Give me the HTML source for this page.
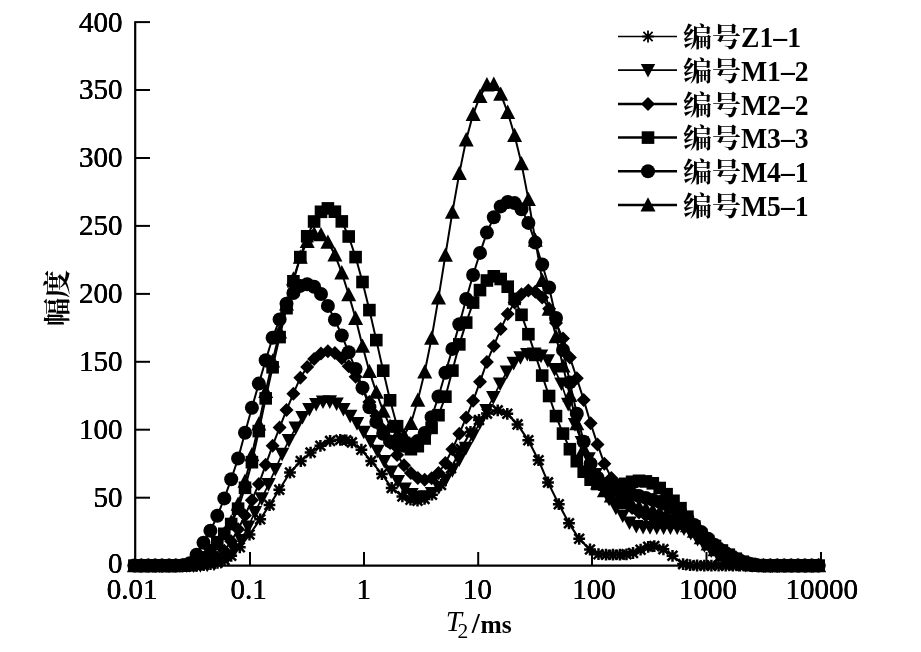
<!DOCTYPE html>
<html lang="zh"><head><meta charset="utf-8"><title>T2/ms 幅度</title>
<style>
html,body{margin:0;padding:0;background:#fff}
svg{display:block}
text{font-family:"Liberation Serif","Noto Serif CJK SC",serif;fill:#000}
.num{font-size:29px;text-shadow:.22px 0 0 #000,-.22px 0 0 #000}
.numy{font-size:29px;text-shadow:.3px 0 0 #000,-.3px 0 0 #000}
.leg{font-size:27px;font-weight:bold}
.cjk{font-family:"Noto Serif CJK SC","Liberation Serif",serif;font-size:27.5px;font-weight:700}
</style></head><body>
<svg width="921" height="652" viewBox="0 0 921 652">
<rect width="921" height="652" fill="#fff"/>
<path d="M135.2 21.2V565.6H822.0" fill="none" stroke="#000" stroke-width="2.2"/>
<text x="122.5" y="572.8" text-anchor="end" class="numy">0</text>
<path d="M135.2 497.7H150" stroke="#000" stroke-width="2"/>
<text x="122.5" y="507.1" text-anchor="end" class="numy">50</text>
<path d="M135.2 429.7H150" stroke="#000" stroke-width="2"/>
<text x="122.5" y="439.1" text-anchor="end" class="numy">100</text>
<path d="M135.2 361.8H150" stroke="#000" stroke-width="2"/>
<text x="122.5" y="371.2" text-anchor="end" class="numy">150</text>
<path d="M135.2 293.9H150" stroke="#000" stroke-width="2"/>
<text x="122.5" y="303.2" text-anchor="end" class="numy">200</text>
<path d="M135.2 225.9H150" stroke="#000" stroke-width="2"/>
<text x="122.5" y="235.3" text-anchor="end" class="numy">250</text>
<path d="M135.2 158.0H150" stroke="#000" stroke-width="2"/>
<text x="122.5" y="167.4" text-anchor="end" class="numy">300</text>
<path d="M135.2 90.0H150" stroke="#000" stroke-width="2"/>
<text x="122.5" y="99.4" text-anchor="end" class="numy">350</text>
<path d="M135.2 22.1H150" stroke="#000" stroke-width="2"/>
<text x="122.5" y="31.5" text-anchor="end" class="numy">400</text>
<text x="132.2" y="599" text-anchor="middle" class="num">0.01</text>
<path d="M250 565.6V552" stroke="#000" stroke-width="2"/>
<text x="248.7" y="599" text-anchor="middle" class="num">0.1</text>
<path d="M364 565.6V552" stroke="#000" stroke-width="2"/>
<text x="363.8" y="599" text-anchor="middle" class="num">1</text>
<path d="M478.2 565.6V552" stroke="#000" stroke-width="2"/>
<text x="477.4" y="599" text-anchor="middle" class="num">10</text>
<path d="M592 565.6V552" stroke="#000" stroke-width="2"/>
<text x="594" y="599" text-anchor="middle" class="num">100</text>
<path d="M706.5 565.6V552" stroke="#000" stroke-width="2"/>
<text x="708" y="599" text-anchor="middle" class="num">1000</text>
<path d="M821 565.6V552" stroke="#000" stroke-width="2"/>
<text x="821.8" y="599" text-anchor="middle" class="num">10000</text>
<defs>
<g id="ast" stroke="#000" stroke-width="2.5" fill="none"><path d="M-5.9 0H5.9M0 -5.9V5.9M-4.9 -4.9L4.9 4.9M-4.9 4.9L4.9 -4.9"/></g>
<g id="ast2" stroke="#000" stroke-width="1.8" fill="none"><path d="M-5.9 0H5.9M0 -5.9V5.9M-4.6 -4.6L4.6 4.6M-4.6 4.6L4.6 -4.6"/></g>
<path id="dtri" d="M-7.2 -6.3H7.2L0 7.3Z" fill="#000"/>
<path id="dia" d="M-7 0L0 -7L7 0L0 7Z" fill="#000"/>
<rect id="sq" x="-6.3" y="-6.3" width="12.6" height="12.6" fill="#000"/>
<circle id="cir" r="7" fill="#000"/>
<path id="utri" d="M-7.5 6.6H7.5L0 -7.7Z" fill="#000"/>
</defs>
<polyline points="134.2,565.6 141.1,565.6 148.1,565.6 155.0,565.6 162.0,565.6 168.9,565.6 175.8,565.6 182.8,565.6 189.7,565.6 196.7,565.5 203.6,565.1 210.5,564.2 217.5,562.8 224.5,560.0 231.2,555.8 239.8,547.3 249.5,534.5 260.2,519.3 269.5,505.1 279.3,489.7 290.0,472.5 300.8,461.1 310.6,452.6 320.4,445.8 330.1,440.9 340.3,439.8 346.3,440.3 351.9,442.4 361.4,449.7 371.2,461.1 381.9,474.1 391.7,487.9 402.4,496.4 410.5,499.7 417.5,500.7 424.5,498.9 432.0,494.7 441.0,484.9 451.0,468.2 461.0,449.1 470.5,431.9 479.0,420.0 487.0,413.6 497.7,410.4 507.3,413.8 517.5,424.4 528.3,440.3 538.5,460.2 548.0,482.4 558.8,504.2 569.0,523.3 579.2,538.8 590.0,549.5 598.5,554.2 606.0,554.7 613.0,554.7 620.0,554.7 626.5,554.3 633.0,553.0 640.6,549.7 648.2,546.8 654.3,546.1 663.4,549.3 672.5,555.8 683.1,564.1 690.0,565.2 697.1,565.5 704.3,565.6 711.4,565.6 718.6,565.6 725.7,565.6 732.9,565.6 740.0,565.6 747.2,565.6 754.3,565.6 761.4,565.6 768.6,565.6 775.7,565.6 782.9,565.6 790.0,565.6 797.2,565.6 804.3,565.6 811.5,565.6 818.6,565.6" fill="none" stroke="#000" stroke-width="2.1" stroke-linejoin="round"/>
<g><use href="#ast" x="134.2" y="565.6"/><use href="#ast" x="141.1" y="565.6"/><use href="#ast" x="148.1" y="565.6"/><use href="#ast" x="155.0" y="565.6"/><use href="#ast" x="162.0" y="565.6"/><use href="#ast" x="168.9" y="565.6"/><use href="#ast" x="175.8" y="565.6"/><use href="#ast" x="182.8" y="565.6"/><use href="#ast" x="189.7" y="565.6"/><use href="#ast" x="196.7" y="565.5"/><use href="#ast" x="203.6" y="565.1"/><use href="#ast" x="210.5" y="564.2"/><use href="#ast" x="217.5" y="562.8"/><use href="#ast" x="224.5" y="560.0"/><use href="#ast" x="231.2" y="555.8"/><use href="#ast" x="239.8" y="547.3"/><use href="#ast" x="249.5" y="534.5"/><use href="#ast" x="260.2" y="519.3"/><use href="#ast" x="269.5" y="505.1"/><use href="#ast" x="279.3" y="489.7"/><use href="#ast" x="290.0" y="472.5"/><use href="#ast" x="300.8" y="461.1"/><use href="#ast" x="310.6" y="452.6"/><use href="#ast" x="320.4" y="445.8"/><use href="#ast" x="330.1" y="440.9"/><use href="#ast" x="340.3" y="439.8"/><use href="#ast" x="346.3" y="440.3"/><use href="#ast" x="351.9" y="442.4"/><use href="#ast" x="361.4" y="449.7"/><use href="#ast" x="371.2" y="461.1"/><use href="#ast" x="381.9" y="474.1"/><use href="#ast" x="391.7" y="487.9"/><use href="#ast" x="402.4" y="496.4"/><use href="#ast" x="410.5" y="499.7"/><use href="#ast" x="417.5" y="500.7"/><use href="#ast" x="424.5" y="498.9"/><use href="#ast" x="432.0" y="494.7"/><use href="#ast" x="441.0" y="484.9"/><use href="#ast" x="451.0" y="468.2"/><use href="#ast" x="461.0" y="449.1"/><use href="#ast" x="470.5" y="431.9"/><use href="#ast" x="479.0" y="420.0"/><use href="#ast" x="487.0" y="413.6"/><use href="#ast" x="497.7" y="410.4"/><use href="#ast" x="507.3" y="413.8"/><use href="#ast" x="517.5" y="424.4"/><use href="#ast" x="528.3" y="440.3"/><use href="#ast" x="538.5" y="460.2"/><use href="#ast" x="548.0" y="482.4"/><use href="#ast" x="558.8" y="504.2"/><use href="#ast" x="569.0" y="523.3"/><use href="#ast" x="579.2" y="538.8"/><use href="#ast" x="590.0" y="549.5"/><use href="#ast" x="598.5" y="554.2"/><use href="#ast" x="606.0" y="554.7"/><use href="#ast" x="613.0" y="554.7"/><use href="#ast" x="620.0" y="554.7"/><use href="#ast" x="626.5" y="554.3"/><use href="#ast" x="633.0" y="553.0"/><use href="#ast" x="640.6" y="549.7"/><use href="#ast" x="648.2" y="546.8"/><use href="#ast" x="654.3" y="546.1"/><use href="#ast" x="663.4" y="549.3"/><use href="#ast" x="672.5" y="555.8"/><use href="#ast" x="683.1" y="564.1"/><use href="#ast" x="690.0" y="565.2"/><use href="#ast" x="697.1" y="565.5"/><use href="#ast" x="704.3" y="565.6"/><use href="#ast" x="711.4" y="565.6"/><use href="#ast" x="718.6" y="565.6"/><use href="#ast" x="725.7" y="565.6"/><use href="#ast" x="732.9" y="565.6"/><use href="#ast" x="740.0" y="565.6"/><use href="#ast" x="747.2" y="565.6"/><use href="#ast" x="754.3" y="565.6"/><use href="#ast" x="761.4" y="565.6"/><use href="#ast" x="768.6" y="565.6"/><use href="#ast" x="775.7" y="565.6"/><use href="#ast" x="782.9" y="565.6"/><use href="#ast" x="790.0" y="565.6"/><use href="#ast" x="797.2" y="565.6"/><use href="#ast" x="804.3" y="565.6"/><use href="#ast" x="811.5" y="565.6"/><use href="#ast" x="818.6" y="565.6"/></g>
<polyline points="139.1,565.6 145.9,565.6 152.7,565.6 159.5,565.6 166.3,565.6 173.1,565.6 179.9,565.6 186.7,565.6 193.5,565.6 200.4,565.4 207.2,565.0 214.0,564.0 220.8,561.7 227.6,557.1 234.4,550.2 241.2,540.3 248.0,526.9 254.9,512.4 261.7,498.6 268.5,484.4 275.3,469.3 282.1,454.1 288.9,440.4 295.7,427.9 302.5,417.2 309.4,409.3 316.2,404.2 323.0,401.8 329.8,401.6 336.6,403.8 343.4,409.2 350.2,416.0 357.0,423.4 363.8,432.0 370.7,441.4 377.5,451.0 384.3,461.2 391.1,471.7 397.9,481.2 404.7,488.8 411.5,494.4 418.3,497.1 425.2,496.6 432.0,493.2 438.8,487.5 445.6,479.8 452.4,470.4 459.2,459.7 466.0,448.0 472.8,435.6 479.7,422.9 486.5,410.2 493.3,397.4 500.1,383.7 506.9,371.9 513.7,363.1 520.5,357.5 527.3,354.3 534.1,353.9 541.0,355.9 547.8,360.6 554.6,369.4 561.4,383.8 568.2,404.1 575.0,424.4 581.8,442.2 588.6,458.6 595.5,474.2 602.3,487.9 609.1,498.9 615.9,508.0 622.7,515.8 629.5,522.7 636.3,526.2 643.1,527.2 650.0,527.5 656.8,527.6 663.6,527.6 670.4,527.6 677.2,527.8 684.0,528.7 690.8,533.1 697.6,539.3 704.4,545.4 711.3,550.6 718.1,555.7 724.9,560.7 731.7,563.7 738.5,564.7 745.3,565.2 752.1,565.5 758.9,565.6 765.8,565.6 772.6,565.6 779.4,565.6 786.2,565.6 793.0,565.6 799.8,565.6 806.6,565.6 813.4,565.6" fill="none" stroke="#000" stroke-width="1.7" stroke-linejoin="round"/>
<g><use href="#dtri" x="139.1" y="565.6"/><use href="#dtri" x="145.9" y="565.6"/><use href="#dtri" x="152.7" y="565.6"/><use href="#dtri" x="159.5" y="565.6"/><use href="#dtri" x="166.3" y="565.6"/><use href="#dtri" x="173.1" y="565.6"/><use href="#dtri" x="179.9" y="565.6"/><use href="#dtri" x="186.7" y="565.6"/><use href="#dtri" x="193.5" y="565.6"/><use href="#dtri" x="200.4" y="565.4"/><use href="#dtri" x="207.2" y="565.0"/><use href="#dtri" x="214.0" y="564.0"/><use href="#dtri" x="220.8" y="561.7"/><use href="#dtri" x="227.6" y="557.1"/><use href="#dtri" x="234.4" y="550.2"/><use href="#dtri" x="241.2" y="540.3"/><use href="#dtri" x="248.0" y="526.9"/><use href="#dtri" x="254.9" y="512.4"/><use href="#dtri" x="261.7" y="498.6"/><use href="#dtri" x="268.5" y="484.4"/><use href="#dtri" x="275.3" y="469.3"/><use href="#dtri" x="282.1" y="454.1"/><use href="#dtri" x="288.9" y="440.4"/><use href="#dtri" x="295.7" y="427.9"/><use href="#dtri" x="302.5" y="417.2"/><use href="#dtri" x="309.4" y="409.3"/><use href="#dtri" x="316.2" y="404.2"/><use href="#dtri" x="323.0" y="401.8"/><use href="#dtri" x="329.8" y="401.6"/><use href="#dtri" x="336.6" y="403.8"/><use href="#dtri" x="343.4" y="409.2"/><use href="#dtri" x="350.2" y="416.0"/><use href="#dtri" x="357.0" y="423.4"/><use href="#dtri" x="363.8" y="432.0"/><use href="#dtri" x="370.7" y="441.4"/><use href="#dtri" x="377.5" y="451.0"/><use href="#dtri" x="384.3" y="461.2"/><use href="#dtri" x="391.1" y="471.7"/><use href="#dtri" x="397.9" y="481.2"/><use href="#dtri" x="404.7" y="488.8"/><use href="#dtri" x="411.5" y="494.4"/><use href="#dtri" x="418.3" y="497.1"/><use href="#dtri" x="425.2" y="496.6"/><use href="#dtri" x="432.0" y="493.2"/><use href="#dtri" x="438.8" y="487.5"/><use href="#dtri" x="445.6" y="479.8"/><use href="#dtri" x="452.4" y="470.4"/><use href="#dtri" x="459.2" y="459.7"/><use href="#dtri" x="466.0" y="448.0"/><use href="#dtri" x="472.8" y="435.6"/><use href="#dtri" x="479.7" y="422.9"/><use href="#dtri" x="486.5" y="410.2"/><use href="#dtri" x="493.3" y="397.4"/><use href="#dtri" x="500.1" y="383.7"/><use href="#dtri" x="506.9" y="371.9"/><use href="#dtri" x="513.7" y="363.1"/><use href="#dtri" x="520.5" y="357.5"/><use href="#dtri" x="527.3" y="354.3"/><use href="#dtri" x="534.1" y="353.9"/><use href="#dtri" x="541.0" y="355.9"/><use href="#dtri" x="547.8" y="360.6"/><use href="#dtri" x="554.6" y="369.4"/><use href="#dtri" x="561.4" y="383.8"/><use href="#dtri" x="568.2" y="404.1"/><use href="#dtri" x="575.0" y="424.4"/><use href="#dtri" x="581.8" y="442.2"/><use href="#dtri" x="588.6" y="458.6"/><use href="#dtri" x="595.5" y="474.2"/><use href="#dtri" x="602.3" y="487.9"/><use href="#dtri" x="609.1" y="498.9"/><use href="#dtri" x="615.9" y="508.0"/><use href="#dtri" x="622.7" y="515.8"/><use href="#dtri" x="629.5" y="522.7"/><use href="#dtri" x="636.3" y="526.2"/><use href="#dtri" x="643.1" y="527.2"/><use href="#dtri" x="650.0" y="527.5"/><use href="#dtri" x="656.8" y="527.6"/><use href="#dtri" x="663.6" y="527.6"/><use href="#dtri" x="670.4" y="527.6"/><use href="#dtri" x="677.2" y="527.8"/><use href="#dtri" x="684.0" y="528.7"/><use href="#dtri" x="690.8" y="533.1"/><use href="#dtri" x="697.6" y="539.3"/><use href="#dtri" x="704.4" y="545.4"/><use href="#dtri" x="711.3" y="550.6"/><use href="#dtri" x="718.1" y="555.7"/><use href="#dtri" x="724.9" y="560.7"/><use href="#dtri" x="731.7" y="563.7"/><use href="#dtri" x="738.5" y="564.7"/><use href="#dtri" x="745.3" y="565.2"/><use href="#dtri" x="752.1" y="565.5"/><use href="#dtri" x="758.9" y="565.6"/><use href="#dtri" x="765.8" y="565.6"/><use href="#dtri" x="772.6" y="565.6"/><use href="#dtri" x="779.4" y="565.6"/><use href="#dtri" x="786.2" y="565.6"/><use href="#dtri" x="793.0" y="565.6"/><use href="#dtri" x="799.8" y="565.6"/><use href="#dtri" x="806.6" y="565.6"/><use href="#dtri" x="813.4" y="565.6"/></g>
<polyline points="134.4,565.6 141.3,565.6 148.2,565.6 155.1,565.6 162.0,565.6 169.0,565.6 175.9,565.6 182.8,565.5 189.7,565.4 196.6,565.0 203.5,564.0 210.4,561.8 217.3,557.6 224.3,550.8 231.2,541.3 238.1,529.3 245.0,515.5 251.9,500.2 258.8,484.1 265.7,464.8 272.6,445.7 279.6,427.6 286.5,410.1 293.4,393.7 300.3,377.7 307.2,367.1 314.1,359.0 321.0,353.4 327.9,351.3 334.9,353.0 341.8,358.2 348.7,366.3 355.6,376.7 362.5,388.8 369.4,402.1 376.3,415.9 383.2,429.7 390.1,442.9 397.1,455.0 404.0,465.2 410.9,473.1 417.8,478.1 424.7,479.7 431.6,478.3 438.5,473.0 445.4,463.0 452.4,449.2 459.3,433.7 466.2,417.6 473.1,400.8 480.0,381.8 486.9,361.9 493.8,345.9 500.7,329.1 507.7,314.1 514.6,302.6 521.5,294.3 528.4,290.4 535.3,291.7 542.2,297.6 549.1,308.7 556.0,322.9 563.0,338.6 569.9,357.4 576.8,378.3 583.7,399.9 590.6,423.3 597.5,444.4 604.4,463.8 611.3,477.9 618.2,490.7 625.2,501.4 632.1,507.9 639.0,512.5 645.9,515.5 652.8,517.4 659.7,518.7 666.6,520.0 673.5,521.6 680.5,523.2 687.4,525.3 694.3,528.8 701.2,534.0 708.1,539.4 715.0,544.4 721.9,549.1 728.8,553.4 735.8,557.2 742.7,560.7 749.6,563.3 756.5,564.8 763.4,565.5 770.3,565.6 777.2,565.6 784.1,565.6 791.1,565.6 798.0,565.6 804.9,565.6 811.8,565.6 818.7,565.6" fill="none" stroke="#000" stroke-width="2.0" stroke-linejoin="round"/>
<g><use href="#dia" x="134.4" y="565.6"/><use href="#dia" x="141.3" y="565.6"/><use href="#dia" x="148.2" y="565.6"/><use href="#dia" x="155.1" y="565.6"/><use href="#dia" x="162.0" y="565.6"/><use href="#dia" x="169.0" y="565.6"/><use href="#dia" x="175.9" y="565.6"/><use href="#dia" x="182.8" y="565.5"/><use href="#dia" x="189.7" y="565.4"/><use href="#dia" x="196.6" y="565.0"/><use href="#dia" x="203.5" y="564.0"/><use href="#dia" x="210.4" y="561.8"/><use href="#dia" x="217.3" y="557.6"/><use href="#dia" x="224.3" y="550.8"/><use href="#dia" x="231.2" y="541.3"/><use href="#dia" x="238.1" y="529.3"/><use href="#dia" x="245.0" y="515.5"/><use href="#dia" x="251.9" y="500.2"/><use href="#dia" x="258.8" y="484.1"/><use href="#dia" x="265.7" y="464.8"/><use href="#dia" x="272.6" y="445.7"/><use href="#dia" x="279.6" y="427.6"/><use href="#dia" x="286.5" y="410.1"/><use href="#dia" x="293.4" y="393.7"/><use href="#dia" x="300.3" y="377.7"/><use href="#dia" x="307.2" y="367.1"/><use href="#dia" x="314.1" y="359.0"/><use href="#dia" x="321.0" y="353.4"/><use href="#dia" x="327.9" y="351.3"/><use href="#dia" x="334.9" y="353.0"/><use href="#dia" x="341.8" y="358.2"/><use href="#dia" x="348.7" y="366.3"/><use href="#dia" x="355.6" y="376.7"/><use href="#dia" x="362.5" y="388.8"/><use href="#dia" x="369.4" y="402.1"/><use href="#dia" x="376.3" y="415.9"/><use href="#dia" x="383.2" y="429.7"/><use href="#dia" x="390.1" y="442.9"/><use href="#dia" x="397.1" y="455.0"/><use href="#dia" x="404.0" y="465.2"/><use href="#dia" x="410.9" y="473.1"/><use href="#dia" x="417.8" y="478.1"/><use href="#dia" x="424.7" y="479.7"/><use href="#dia" x="431.6" y="478.3"/><use href="#dia" x="438.5" y="473.0"/><use href="#dia" x="445.4" y="463.0"/><use href="#dia" x="452.4" y="449.2"/><use href="#dia" x="459.3" y="433.7"/><use href="#dia" x="466.2" y="417.6"/><use href="#dia" x="473.1" y="400.8"/><use href="#dia" x="480.0" y="381.8"/><use href="#dia" x="486.9" y="361.9"/><use href="#dia" x="493.8" y="345.9"/><use href="#dia" x="500.7" y="329.1"/><use href="#dia" x="507.7" y="314.1"/><use href="#dia" x="514.6" y="302.6"/><use href="#dia" x="521.5" y="294.3"/><use href="#dia" x="528.4" y="290.4"/><use href="#dia" x="535.3" y="291.7"/><use href="#dia" x="542.2" y="297.6"/><use href="#dia" x="549.1" y="308.7"/><use href="#dia" x="556.0" y="322.9"/><use href="#dia" x="563.0" y="338.6"/><use href="#dia" x="569.9" y="357.4"/><use href="#dia" x="576.8" y="378.3"/><use href="#dia" x="583.7" y="399.9"/><use href="#dia" x="590.6" y="423.3"/><use href="#dia" x="597.5" y="444.4"/><use href="#dia" x="604.4" y="463.8"/><use href="#dia" x="611.3" y="477.9"/><use href="#dia" x="618.2" y="490.7"/><use href="#dia" x="625.2" y="501.4"/><use href="#dia" x="632.1" y="507.9"/><use href="#dia" x="639.0" y="512.5"/><use href="#dia" x="645.9" y="515.5"/><use href="#dia" x="652.8" y="517.4"/><use href="#dia" x="659.7" y="518.7"/><use href="#dia" x="666.6" y="520.0"/><use href="#dia" x="673.5" y="521.6"/><use href="#dia" x="680.5" y="523.2"/><use href="#dia" x="687.4" y="525.3"/><use href="#dia" x="694.3" y="528.8"/><use href="#dia" x="701.2" y="534.0"/><use href="#dia" x="708.1" y="539.4"/><use href="#dia" x="715.0" y="544.4"/><use href="#dia" x="721.9" y="549.1"/><use href="#dia" x="728.8" y="553.4"/><use href="#dia" x="735.8" y="557.2"/><use href="#dia" x="742.7" y="560.7"/><use href="#dia" x="749.6" y="563.3"/><use href="#dia" x="756.5" y="564.8"/><use href="#dia" x="763.4" y="565.5"/><use href="#dia" x="770.3" y="565.6"/><use href="#dia" x="777.2" y="565.6"/><use href="#dia" x="784.1" y="565.6"/><use href="#dia" x="791.1" y="565.6"/><use href="#dia" x="798.0" y="565.6"/><use href="#dia" x="804.9" y="565.6"/><use href="#dia" x="811.8" y="565.6"/><use href="#dia" x="818.7" y="565.6"/></g>
<polyline points="134.4,565.6 141.3,565.6 148.2,565.6 155.1,565.6 162.0,565.6 169.0,565.6 175.9,565.6 182.8,565.4 189.7,564.8 196.6,562.5 203.5,557.4 210.4,550.4 217.3,542.2 224.3,533.8 231.2,524.0 238.1,508.7 245.0,487.8 251.9,462.2 258.8,431.1 265.7,398.4 272.6,367.3 279.6,337.1 286.5,308.2 293.4,281.3 300.3,257.1 307.2,236.3 314.1,221.5 321.0,211.8 327.9,208.4 334.9,211.7 341.8,221.4 348.7,236.5 355.6,257.1 362.5,282.0 369.4,310.1 376.3,340.1 383.2,370.7 390.1,400.3 397.1,426.2 404.0,442.9 410.9,449.2 417.8,446.2 424.7,438.5 431.6,427.9 438.5,415.2 445.4,396.7 452.4,370.6 459.3,344.4 466.2,322.6 473.1,302.6 480.0,290.1 486.9,280.5 493.8,276.3 500.7,279.0 507.7,286.7 514.6,298.9 521.5,314.8 528.4,334.2 535.3,354.9 542.2,375.6 549.1,396.0 556.0,416.1 563.0,433.6 569.9,449.2 576.8,461.2 583.7,471.7 590.6,479.7 597.5,484.0 604.4,484.7 611.3,484.8 618.2,484.7 625.2,483.8 632.1,481.8 639.0,480.8 645.9,481.4 652.8,483.3 659.7,488.0 666.6,494.2 673.5,500.8 680.5,508.2 687.4,516.7 694.3,526.4 701.2,534.7 708.1,541.0 715.0,546.0 721.9,550.5 728.8,554.7 735.8,558.7 742.7,561.7 749.6,563.9 756.5,565.2 763.4,565.6 770.3,565.6 777.2,565.6 784.1,565.6 791.1,565.6 798.0,565.6 804.9,565.6 811.8,565.6 818.7,565.6" fill="none" stroke="#000" stroke-width="2.0" stroke-linejoin="round"/>
<g><use href="#sq" x="134.4" y="565.6"/><use href="#sq" x="141.3" y="565.6"/><use href="#sq" x="148.2" y="565.6"/><use href="#sq" x="155.1" y="565.6"/><use href="#sq" x="162.0" y="565.6"/><use href="#sq" x="169.0" y="565.6"/><use href="#sq" x="175.9" y="565.6"/><use href="#sq" x="182.8" y="565.4"/><use href="#sq" x="189.7" y="564.8"/><use href="#sq" x="196.6" y="562.5"/><use href="#sq" x="203.5" y="557.4"/><use href="#sq" x="210.4" y="550.4"/><use href="#sq" x="217.3" y="542.2"/><use href="#sq" x="224.3" y="533.8"/><use href="#sq" x="231.2" y="524.0"/><use href="#sq" x="238.1" y="508.7"/><use href="#sq" x="245.0" y="487.8"/><use href="#sq" x="251.9" y="462.2"/><use href="#sq" x="258.8" y="431.1"/><use href="#sq" x="265.7" y="398.4"/><use href="#sq" x="272.6" y="367.3"/><use href="#sq" x="279.6" y="337.1"/><use href="#sq" x="286.5" y="308.2"/><use href="#sq" x="293.4" y="281.3"/><use href="#sq" x="300.3" y="257.1"/><use href="#sq" x="307.2" y="236.3"/><use href="#sq" x="314.1" y="221.5"/><use href="#sq" x="321.0" y="211.8"/><use href="#sq" x="327.9" y="208.4"/><use href="#sq" x="334.9" y="211.7"/><use href="#sq" x="341.8" y="221.4"/><use href="#sq" x="348.7" y="236.5"/><use href="#sq" x="355.6" y="257.1"/><use href="#sq" x="362.5" y="282.0"/><use href="#sq" x="369.4" y="310.1"/><use href="#sq" x="376.3" y="340.1"/><use href="#sq" x="383.2" y="370.7"/><use href="#sq" x="390.1" y="400.3"/><use href="#sq" x="397.1" y="426.2"/><use href="#sq" x="404.0" y="442.9"/><use href="#sq" x="410.9" y="449.2"/><use href="#sq" x="417.8" y="446.2"/><use href="#sq" x="424.7" y="438.5"/><use href="#sq" x="431.6" y="427.9"/><use href="#sq" x="438.5" y="415.2"/><use href="#sq" x="445.4" y="396.7"/><use href="#sq" x="452.4" y="370.6"/><use href="#sq" x="459.3" y="344.4"/><use href="#sq" x="466.2" y="322.6"/><use href="#sq" x="473.1" y="302.6"/><use href="#sq" x="480.0" y="290.1"/><use href="#sq" x="486.9" y="280.5"/><use href="#sq" x="493.8" y="276.3"/><use href="#sq" x="500.7" y="279.0"/><use href="#sq" x="507.7" y="286.7"/><use href="#sq" x="514.6" y="298.9"/><use href="#sq" x="521.5" y="314.8"/><use href="#sq" x="528.4" y="334.2"/><use href="#sq" x="535.3" y="354.9"/><use href="#sq" x="542.2" y="375.6"/><use href="#sq" x="549.1" y="396.0"/><use href="#sq" x="556.0" y="416.1"/><use href="#sq" x="563.0" y="433.6"/><use href="#sq" x="569.9" y="449.2"/><use href="#sq" x="576.8" y="461.2"/><use href="#sq" x="583.7" y="471.7"/><use href="#sq" x="590.6" y="479.7"/><use href="#sq" x="597.5" y="484.0"/><use href="#sq" x="604.4" y="484.7"/><use href="#sq" x="611.3" y="484.8"/><use href="#sq" x="618.2" y="484.7"/><use href="#sq" x="625.2" y="483.8"/><use href="#sq" x="632.1" y="481.8"/><use href="#sq" x="639.0" y="480.8"/><use href="#sq" x="645.9" y="481.4"/><use href="#sq" x="652.8" y="483.3"/><use href="#sq" x="659.7" y="488.0"/><use href="#sq" x="666.6" y="494.2"/><use href="#sq" x="673.5" y="500.8"/><use href="#sq" x="680.5" y="508.2"/><use href="#sq" x="687.4" y="516.7"/><use href="#sq" x="694.3" y="526.4"/><use href="#sq" x="701.2" y="534.7"/><use href="#sq" x="708.1" y="541.0"/><use href="#sq" x="715.0" y="546.0"/><use href="#sq" x="721.9" y="550.5"/><use href="#sq" x="728.8" y="554.7"/><use href="#sq" x="735.8" y="558.7"/><use href="#sq" x="742.7" y="561.7"/><use href="#sq" x="749.6" y="563.9"/><use href="#sq" x="756.5" y="565.2"/><use href="#sq" x="763.4" y="565.6"/><use href="#sq" x="770.3" y="565.6"/><use href="#sq" x="777.2" y="565.6"/><use href="#sq" x="784.1" y="565.6"/><use href="#sq" x="791.1" y="565.6"/><use href="#sq" x="798.0" y="565.6"/><use href="#sq" x="804.9" y="565.6"/><use href="#sq" x="811.8" y="565.6"/><use href="#sq" x="818.7" y="565.6"/></g>
<polyline points="134.4,565.6 141.3,565.6 148.2,565.6 155.1,565.6 162.0,565.6 169.0,565.6 175.9,565.6 182.8,565.3 189.7,563.3 196.6,554.8 203.5,542.8 210.4,530.7 217.3,515.8 224.3,498.4 231.2,479.2 238.1,458.4 245.0,432.8 251.9,407.7 258.8,383.6 265.7,360.2 272.6,337.8 279.6,319.4 286.5,303.8 293.4,293.0 300.3,285.9 307.2,284.2 314.1,286.8 321.0,294.0 327.9,305.9 334.9,319.7 341.8,335.5 348.7,352.3 355.6,369.0 362.5,387.7 369.4,407.2 376.3,421.9 383.2,433.8 390.1,441.4 397.1,444.9 404.0,445.8 410.9,444.6 417.8,441.0 424.7,433.0 431.6,417.3 438.5,396.5 445.4,372.7 452.4,348.9 459.3,324.2 466.2,298.9 473.1,275.0 480.0,252.9 486.9,232.6 493.8,217.3 500.7,206.4 507.7,202.0 514.6,203.1 521.5,209.3 528.4,222.9 535.3,242.6 542.2,264.5 549.1,287.5 556.0,318.0 563.0,350.0 569.9,382.4 576.8,413.8 583.7,441.7 590.6,463.8 597.5,477.8 604.4,484.2 611.3,487.6 618.2,490.2 625.2,492.5 632.1,494.3 639.0,496.0 645.9,497.9 652.8,499.9 659.7,501.9 666.6,504.4 673.5,507.9 680.5,512.7 687.4,518.5 694.3,524.9 701.2,531.9 708.1,538.7 715.0,545.1 721.9,550.7 728.8,555.7 735.8,559.7 742.7,562.2 749.6,563.8 756.5,564.9 763.4,565.5 770.3,565.6 777.2,565.6 784.1,565.6 791.1,565.6 798.0,565.6 804.9,565.6 811.8,565.6 818.7,565.6" fill="none" stroke="#000" stroke-width="2.0" stroke-linejoin="round"/>
<g><use href="#cir" x="134.4" y="565.6"/><use href="#cir" x="141.3" y="565.6"/><use href="#cir" x="148.2" y="565.6"/><use href="#cir" x="155.1" y="565.6"/><use href="#cir" x="162.0" y="565.6"/><use href="#cir" x="169.0" y="565.6"/><use href="#cir" x="175.9" y="565.6"/><use href="#cir" x="182.8" y="565.3"/><use href="#cir" x="189.7" y="563.3"/><use href="#cir" x="196.6" y="554.8"/><use href="#cir" x="203.5" y="542.8"/><use href="#cir" x="210.4" y="530.7"/><use href="#cir" x="217.3" y="515.8"/><use href="#cir" x="224.3" y="498.4"/><use href="#cir" x="231.2" y="479.2"/><use href="#cir" x="238.1" y="458.4"/><use href="#cir" x="245.0" y="432.8"/><use href="#cir" x="251.9" y="407.7"/><use href="#cir" x="258.8" y="383.6"/><use href="#cir" x="265.7" y="360.2"/><use href="#cir" x="272.6" y="337.8"/><use href="#cir" x="279.6" y="319.4"/><use href="#cir" x="286.5" y="303.8"/><use href="#cir" x="293.4" y="293.0"/><use href="#cir" x="300.3" y="285.9"/><use href="#cir" x="307.2" y="284.2"/><use href="#cir" x="314.1" y="286.8"/><use href="#cir" x="321.0" y="294.0"/><use href="#cir" x="327.9" y="305.9"/><use href="#cir" x="334.9" y="319.7"/><use href="#cir" x="341.8" y="335.5"/><use href="#cir" x="348.7" y="352.3"/><use href="#cir" x="355.6" y="369.0"/><use href="#cir" x="362.5" y="387.7"/><use href="#cir" x="369.4" y="407.2"/><use href="#cir" x="376.3" y="421.9"/><use href="#cir" x="383.2" y="433.8"/><use href="#cir" x="390.1" y="441.4"/><use href="#cir" x="397.1" y="444.9"/><use href="#cir" x="404.0" y="445.8"/><use href="#cir" x="410.9" y="444.6"/><use href="#cir" x="417.8" y="441.0"/><use href="#cir" x="424.7" y="433.0"/><use href="#cir" x="431.6" y="417.3"/><use href="#cir" x="438.5" y="396.5"/><use href="#cir" x="445.4" y="372.7"/><use href="#cir" x="452.4" y="348.9"/><use href="#cir" x="459.3" y="324.2"/><use href="#cir" x="466.2" y="298.9"/><use href="#cir" x="473.1" y="275.0"/><use href="#cir" x="480.0" y="252.9"/><use href="#cir" x="486.9" y="232.6"/><use href="#cir" x="493.8" y="217.3"/><use href="#cir" x="500.7" y="206.4"/><use href="#cir" x="507.7" y="202.0"/><use href="#cir" x="514.6" y="203.1"/><use href="#cir" x="521.5" y="209.3"/><use href="#cir" x="528.4" y="222.9"/><use href="#cir" x="535.3" y="242.6"/><use href="#cir" x="542.2" y="264.5"/><use href="#cir" x="549.1" y="287.5"/><use href="#cir" x="556.0" y="318.0"/><use href="#cir" x="563.0" y="350.0"/><use href="#cir" x="569.9" y="382.4"/><use href="#cir" x="576.8" y="413.8"/><use href="#cir" x="583.7" y="441.7"/><use href="#cir" x="590.6" y="463.8"/><use href="#cir" x="597.5" y="477.8"/><use href="#cir" x="604.4" y="484.2"/><use href="#cir" x="611.3" y="487.6"/><use href="#cir" x="618.2" y="490.2"/><use href="#cir" x="625.2" y="492.5"/><use href="#cir" x="632.1" y="494.3"/><use href="#cir" x="639.0" y="496.0"/><use href="#cir" x="645.9" y="497.9"/><use href="#cir" x="652.8" y="499.9"/><use href="#cir" x="659.7" y="501.9"/><use href="#cir" x="666.6" y="504.4"/><use href="#cir" x="673.5" y="507.9"/><use href="#cir" x="680.5" y="512.7"/><use href="#cir" x="687.4" y="518.5"/><use href="#cir" x="694.3" y="524.9"/><use href="#cir" x="701.2" y="531.9"/><use href="#cir" x="708.1" y="538.7"/><use href="#cir" x="715.0" y="545.1"/><use href="#cir" x="721.9" y="550.7"/><use href="#cir" x="728.8" y="555.7"/><use href="#cir" x="735.8" y="559.7"/><use href="#cir" x="742.7" y="562.2"/><use href="#cir" x="749.6" y="563.8"/><use href="#cir" x="756.5" y="564.9"/><use href="#cir" x="763.4" y="565.5"/><use href="#cir" x="770.3" y="565.6"/><use href="#cir" x="777.2" y="565.6"/><use href="#cir" x="784.1" y="565.6"/><use href="#cir" x="791.1" y="565.6"/><use href="#cir" x="798.0" y="565.6"/><use href="#cir" x="804.9" y="565.6"/><use href="#cir" x="811.8" y="565.6"/><use href="#cir" x="818.7" y="565.6"/></g>
<polyline points="134.4,565.6 141.3,565.6 148.2,565.6 155.1,565.6 162.0,565.6 169.0,565.6 175.9,565.6 182.8,565.4 189.7,564.8 196.6,562.9 203.5,558.5 210.4,551.9 217.3,543.5 224.3,533.7 231.2,522.0 238.1,504.1 245.0,481.1 251.9,454.7 258.8,424.0 265.7,391.4 272.6,361.0 279.6,331.8 286.5,304.0 293.4,278.9 300.3,257.2 307.2,241.4 314.1,233.6 321.0,234.6 327.9,242.1 334.9,254.8 341.8,272.8 348.7,294.6 355.6,318.3 362.5,346.1 369.4,371.4 376.3,392.1 383.2,411.1 390.1,426.2 397.1,434.7 404.0,435.5 410.9,423.5 417.8,400.2 424.7,372.0 431.6,338.1 438.5,297.9 445.4,255.1 452.4,212.1 459.3,173.4 466.2,139.8 473.1,114.3 480.0,96.4 486.9,84.8 493.8,84.3 500.7,94.2 507.7,112.3 514.6,135.5 521.5,163.6 528.4,199.4 535.3,240.2 542.2,280.4 549.1,309.2 556.0,336.6 563.0,365.9 569.9,395.5 576.8,423.6 583.7,448.7 590.6,469.0 597.5,482.9 604.4,490.7 611.3,495.8 618.2,499.5 625.2,502.4 632.1,504.8 639.0,506.8 645.9,508.8 652.8,510.5 659.7,512.2 666.6,514.2 673.5,517.0 680.5,520.9 687.4,525.7 694.3,531.2 701.2,537.6 708.1,543.9 715.0,549.7 721.9,554.5 728.8,558.4 735.8,561.5 742.7,563.4 749.6,564.7 756.5,565.4 763.4,565.6 770.3,565.6 777.2,565.6 784.1,565.6 791.1,565.6 798.0,565.6 804.9,565.6 811.8,565.6 818.7,565.6" fill="none" stroke="#000" stroke-width="2.0" stroke-linejoin="round"/>
<g><use href="#utri" x="134.4" y="565.6"/><use href="#utri" x="141.3" y="565.6"/><use href="#utri" x="148.2" y="565.6"/><use href="#utri" x="155.1" y="565.6"/><use href="#utri" x="162.0" y="565.6"/><use href="#utri" x="169.0" y="565.6"/><use href="#utri" x="175.9" y="565.6"/><use href="#utri" x="182.8" y="565.4"/><use href="#utri" x="189.7" y="564.8"/><use href="#utri" x="196.6" y="562.9"/><use href="#utri" x="203.5" y="558.5"/><use href="#utri" x="210.4" y="551.9"/><use href="#utri" x="217.3" y="543.5"/><use href="#utri" x="224.3" y="533.7"/><use href="#utri" x="231.2" y="522.0"/><use href="#utri" x="238.1" y="504.1"/><use href="#utri" x="245.0" y="481.1"/><use href="#utri" x="251.9" y="454.7"/><use href="#utri" x="258.8" y="424.0"/><use href="#utri" x="265.7" y="391.4"/><use href="#utri" x="272.6" y="361.0"/><use href="#utri" x="279.6" y="331.8"/><use href="#utri" x="286.5" y="304.0"/><use href="#utri" x="293.4" y="278.9"/><use href="#utri" x="300.3" y="257.2"/><use href="#utri" x="307.2" y="241.4"/><use href="#utri" x="314.1" y="233.6"/><use href="#utri" x="321.0" y="234.6"/><use href="#utri" x="327.9" y="242.1"/><use href="#utri" x="334.9" y="254.8"/><use href="#utri" x="341.8" y="272.8"/><use href="#utri" x="348.7" y="294.6"/><use href="#utri" x="355.6" y="318.3"/><use href="#utri" x="362.5" y="346.1"/><use href="#utri" x="369.4" y="371.4"/><use href="#utri" x="376.3" y="392.1"/><use href="#utri" x="383.2" y="411.1"/><use href="#utri" x="390.1" y="426.2"/><use href="#utri" x="397.1" y="434.7"/><use href="#utri" x="404.0" y="435.5"/><use href="#utri" x="410.9" y="423.5"/><use href="#utri" x="417.8" y="400.2"/><use href="#utri" x="424.7" y="372.0"/><use href="#utri" x="431.6" y="338.1"/><use href="#utri" x="438.5" y="297.9"/><use href="#utri" x="445.4" y="255.1"/><use href="#utri" x="452.4" y="212.1"/><use href="#utri" x="459.3" y="173.4"/><use href="#utri" x="466.2" y="139.8"/><use href="#utri" x="473.1" y="114.3"/><use href="#utri" x="480.0" y="96.4"/><use href="#utri" x="486.9" y="84.8"/><use href="#utri" x="493.8" y="84.3"/><use href="#utri" x="500.7" y="94.2"/><use href="#utri" x="507.7" y="112.3"/><use href="#utri" x="514.6" y="135.5"/><use href="#utri" x="521.5" y="163.6"/><use href="#utri" x="528.4" y="199.4"/><use href="#utri" x="535.3" y="240.2"/><use href="#utri" x="542.2" y="280.4"/><use href="#utri" x="549.1" y="309.2"/><use href="#utri" x="556.0" y="336.6"/><use href="#utri" x="563.0" y="365.9"/><use href="#utri" x="569.9" y="395.5"/><use href="#utri" x="576.8" y="423.6"/><use href="#utri" x="583.7" y="448.7"/><use href="#utri" x="590.6" y="469.0"/><use href="#utri" x="597.5" y="482.9"/><use href="#utri" x="604.4" y="490.7"/><use href="#utri" x="611.3" y="495.8"/><use href="#utri" x="618.2" y="499.5"/><use href="#utri" x="625.2" y="502.4"/><use href="#utri" x="632.1" y="504.8"/><use href="#utri" x="639.0" y="506.8"/><use href="#utri" x="645.9" y="508.8"/><use href="#utri" x="652.8" y="510.5"/><use href="#utri" x="659.7" y="512.2"/><use href="#utri" x="666.6" y="514.2"/><use href="#utri" x="673.5" y="517.0"/><use href="#utri" x="680.5" y="520.9"/><use href="#utri" x="687.4" y="525.7"/><use href="#utri" x="694.3" y="531.2"/><use href="#utri" x="701.2" y="537.6"/><use href="#utri" x="708.1" y="543.9"/><use href="#utri" x="715.0" y="549.7"/><use href="#utri" x="721.9" y="554.5"/><use href="#utri" x="728.8" y="558.4"/><use href="#utri" x="735.8" y="561.5"/><use href="#utri" x="742.7" y="563.4"/><use href="#utri" x="749.6" y="564.7"/><use href="#utri" x="756.5" y="565.4"/><use href="#utri" x="763.4" y="565.6"/><use href="#utri" x="770.3" y="565.6"/><use href="#utri" x="777.2" y="565.6"/><use href="#utri" x="784.1" y="565.6"/><use href="#utri" x="791.1" y="565.6"/><use href="#utri" x="798.0" y="565.6"/><use href="#utri" x="804.9" y="565.6"/><use href="#utri" x="811.8" y="565.6"/><use href="#utri" x="818.7" y="565.6"/></g>
<path d="M618 36.5H677" stroke="#000" stroke-width="1.5"/><use href="#ast2" x="648" y="36.5"/>
<text transform="translate(683,47.3) scale(1.055,1)" class="cjk">编号</text><text transform="translate(741,47.2) scale(0.975,1)" class="leg" style="font-size:28.4px">Z1–1</text>
<path d="M618 70.2H677" stroke="#000" stroke-width="1.8"/><use href="#dtri" x="648" y="70.2"/>
<text transform="translate(683,81.0) scale(1.055,1)" class="cjk">编号</text><text transform="translate(741,80.9) scale(0.975,1)" class="leg" style="font-size:28.4px">M1–2</text>
<path d="M618 103.9H677" stroke="#000" stroke-width="2.5"/><use href="#dia" x="648" y="103.9"/>
<text transform="translate(683,114.7) scale(1.055,1)" class="cjk">编号</text><text transform="translate(741,114.6) scale(0.975,1)" class="leg" style="font-size:28.4px">M2–2</text>
<path d="M618 137.6H677" stroke="#000" stroke-width="2.5"/><use href="#sq" x="648" y="137.6"/>
<text transform="translate(683,148.4) scale(1.055,1)" class="cjk">编号</text><text transform="translate(741,148.3) scale(0.975,1)" class="leg" style="font-size:28.4px">M3–3</text>
<path d="M618 171.3H677" stroke="#000" stroke-width="2.5"/><use href="#cir" x="648" y="171.3"/>
<text transform="translate(683,182.1) scale(1.055,1)" class="cjk">编号</text><text transform="translate(741,182.0) scale(0.975,1)" class="leg" style="font-size:28.4px">M4–1</text>
<path d="M618 205.0H677" stroke="#000" stroke-width="2.5"/><use href="#utri" x="648" y="205.0"/>
<text transform="translate(683,215.8) scale(1.055,1)" class="cjk">编号</text><text transform="translate(741,215.7) scale(0.975,1)" class="leg" style="font-size:28.4px">M5–1</text>
<text transform="translate(67,298) rotate(-90) scale(1.04,1)" text-anchor="middle" class="cjk" style="font-size:27px">幅度</text>
<text x="445.8" y="631.4" class="leg"><tspan font-style="italic" font-weight="normal" font-size="29">T</tspan><tspan dx="-4.5" dy="6.3" font-size="21.5" font-weight="normal">2</tspan><tspan dx="3.6" dy="-5.1" font-size="29">/</tspan><tspan dx="0.6" font-size="25.5">ms</tspan></text>
</svg>
</body></html>
